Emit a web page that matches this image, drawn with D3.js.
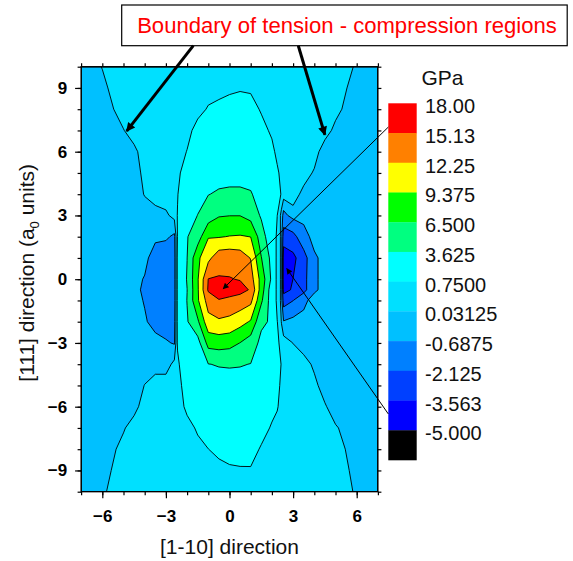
<!DOCTYPE html>
<html>
<head>
<meta charset="utf-8">
<script src="https://cdn.jsdelivr.net/npm/d3@7"></script>
<style>
  body { margin: 0; background: #ffffff; }
  svg { display: block; }
  text { font-family: "Liberation Sans", Arial, Helvetica, sans-serif; }
</style>
</head>
<body>
<svg id="chart" width="573" height="561"></svg>
<script>
// ---------------- DATA ----------------
// grid sample positions along [1-10] (x) and [111] (y), in a0 units
const xNodes = [-7, -6, -5, -4.5, -4, -3.5, -3, -2.6, -2.45, -2, -1.5, -1, -0.5, 0, 0.5, 1, 1.5, 2, 2.25, 2.45, 2.55, 3, 3.5, 4, 4.5, 5, 6, 7];
const yNodes = [10, 9, 8, 7, 6, 5, 4, 3, 2, 1, 0, -0.5, -1, -2, -3, -4, -5, -6, -7, -8, -9, -10];
const stressGPa = [
  /* y=10  */ [-0.3, 0.05, 0.4, 0.4, 0.4, 0.4, 0.4, 0.4, 0.4, 0.4, 0.4, 0.45, 0.45, 0.45, 0.45, 0.45, 0.4, 0.4, 0.4, 0.4, 0.4, 0.4, 0.4, 0.4, 0.4, 0.4, -0.04, -0.3],
  /* y=9   */ [-0.3, -0.1, 0.4, 0.4, 0.4, 0.4, 0.4, 0.4, 0.4, 0.4, 0.4, 0.45, 0.45, 0.5, 0.6, 0.55, 0.5, 0.4, 0.4, 0.4, 0.4, 0.4, 0.4, 0.4, 0.4, 0.4, -0.28, -0.3],
  /* y=8   */ [-0.3, -0.4, 0.4, 0.4, 0.4, 0.4, 0.4, 0.4, 0.4, 0.45, 0.5, 0.82, 1.0, 1.3, 1.5, 1.3, 0.6, 0.45, 0.4, 0.4, 0.4, 0.4, 0.4, 0.4, 0.4, 0.3, -0.6, -0.3],
  /* y=7   */ [-0.3, -0.3, 0.0, 0.4, 0.4, 0.4, 0.4, 0.4, 0.4, 0.5, 1.04, 1.6, 2.0, 2.2, 2.2, 2.0, 1.24, 0.5, 0.4, 0.4, 0.4, 0.4, 0.4, 0.4, 0.4, -0.2, -0.3, -0.3],
  /* y=6   */ [-0.3, -0.3, -0.3, -0.16, 0.4, 0.4, 0.4, 0.4, 0.4, 0.78, 1.8, 2.4, 2.8, 3.0, 3.0, 2.6, 2.0, 1.13, 0.4, 0.4, 0.4, 0.4, 0.4, 0.4, -0.44, -0.3, -0.3, -0.3],
  /* y=5   */ [-0.3, -0.3, -0.3, -0.41, 0.3, 0.4, 0.4, 0.4, 0.4, 1.61, 2.2, 2.6, 2.8, 3.0, 3.0, 2.7, 2.3, 1.6, 0.98, 0.4, 0.4, 0.4, 0.4, -0.07, -0.3, -0.3, -0.3, -0.3],
  /* y=4   */ [-0.3, -0.3, -0.3, -0.3, 0.07, 0.4, 0.4, 0.4, 0.7, 1.84, 2.6, 3.56, 3.9, 3.95, 3.95, 3.82, 2.6, 2.0, 1.5, 0.62, 0.35, 0.4, -0.215, -0.3, -0.3, -0.3, -0.3, -0.3],
  /* y=3   */ [-0.3, -0.3, -0.3, -0.3, -0.3, -0.3, -0.1, 0.25, 0.8, 2.2, 3.68, 5.0, 6.3, 6.45, 6.45, 5.5, 3.27, 1.9, 0.76, -0.21, -1.0, -0.3, -0.3, -0.3, -0.3, -0.3, -0.3, -0.3],
  /* y=2   */ [-0.3, -0.3, -0.3, -0.3, -0.3, -0.4, -0.55, -0.85, 0.81, 3.5, 5.06, 9.2, 9.2, 9.48, 9.6, 9.33, 5.0, 1.56, 0.55, -0.14, -3.0, -2.6, -1.2, -0.25, -0.3, -0.3, -0.3, -0.3],
  /* y=1   */ [-0.3, -0.3, -0.3, -0.3, -0.3, -1.4, -1.3, -1.0, 0.95, 3.6, 8.78, 11.5, 14.0, 14.2, 13.8, 12.12, 6.6, 2.69, 0.265, -0.047, -4.2, -3.9, -2.72, -0.9, -0.3, -0.3, -0.3, -0.3],
  /* y=0   */ [-0.3, -0.3, -0.3, -0.3, -0.78, -1.5, -1.4, -1.0, 0.95, 3.8, 9.1, 15.2, 15.35, 15.25, 15.0, 13.5, 8.3, 3.0, 0.19, -0.02, -4.3, -3.55, -2.6, -0.9, -0.3, -0.3, -0.3, -0.3],
  /* y=-0.5*/ [-0.3, -0.3, -0.3, -0.3, -0.95, -1.5, -1.4, -1.0, 0.95, 3.6, 9.0, 15.5, 17.0, 16.8, 16.0, 14.88, 7.96, 1.88, 0.47, -0.115, -4.0, -3.4, -2.6, -0.9, -0.3, -0.3, -0.3, -0.3],
  /* y=-1  */ [-0.3, -0.3, -0.3, -0.3, -0.77, -1.5, -1.4, -1.0, 0.95, 3.7, 9.0, 13.5, 14.92, 14.27, 13.93, 13.0, 7.0, 2.0, 0.44, -0.105, -2.8, -2.15, -1.0, -0.2, -0.3, -0.3, -0.3, -0.3],
  /* y=-2  */ [-0.3, -0.3, -0.3, -0.3, -0.55, -1.1, -1.1, -0.9, 0.95, 3.4, 6.0, 11.3, 11.8, 11.5, 10.4, 9.1, 4.1, 3.28, 0.78, 0.0, -0.6, -0.3, -0.3, -0.3, -0.3, -0.3, -0.3, -0.3],
  /* y=-3  */ [-0.3, -0.3, -0.3, -0.3, -0.3, -0.3, -0.6, -0.75, 0.9, 2.4, 2.53, 7.49, 7.8, 7.5, 6.45, 5.0, 2.98, 1.8, 1.0, 0.4, 0.35, 0.018, -0.3, -0.3, -0.3, -0.3, -0.3, -0.3],
  /* y=-4  */ [-0.3, -0.3, -0.3, -0.3, -0.3, -0.3, -0.3, 0.23, 0.5, 1.89, 2.5, 3.58, 3.75, 3.8, 3.75, 3.58, 2.8, 2.0, 1.3, 0.69, 0.5, 0.4, 0.3, -0.095, -0.3, -0.3, -0.3, -0.3],
  /* y=-5  */ [-0.3, -0.3, -0.3, -0.3, 0.05, 0.4, 0.4, 0.4, 0.5, 1.1, 2.0, 2.5, 2.8, 2.85, 2.8, 2.6, 2.2, 1.8, 1.2, 0.45, 0.4, 0.4, 0.4, 0.2, -0.27, -0.3, -0.3, -0.3],
  /* y=-6  */ [-0.3, -0.3, -0.3, -0.236, 0.4, 0.4, 0.4, 0.4, 0.4, 0.92, 1.6, 2.0, 2.3, 2.4, 2.4, 2.2, 1.8, 1.4, 0.84, 0.4, 0.4, 0.4, 0.4, 0.4, 0.1, -0.3, -0.3, -0.3],
  /* y=-7  */ [-0.3, -0.3, -0.05, 0.4, 0.4, 0.4, 0.4, 0.4, 0.4, 0.5, 0.85, 1.3, 1.6, 1.8, 1.9, 1.8, 1.64, 0.5, 0.4, 0.4, 0.4, 0.4, 0.4, 0.4, 0.4, 0.1, -0.39, -0.3],
  /* y=-8  */ [-0.3, -0.47, 0.3, 0.4, 0.4, 0.4, 0.4, 0.4, 0.4, 0.45, 0.55, 0.74, 1.0, 1.4, 1.6, 1.64, 0.5, 0.45, 0.4, 0.4, 0.4, 0.4, 0.4, 0.4, 0.4, 0.4, -0.4, -0.3],
  /* y=-9  */ [-0.3, -0.236, 0.4, 0.4, 0.4, 0.4, 0.4, 0.4, 0.4, 0.4, 0.4, 0.45, 0.45, 0.5, 0.55, 0.55, 0.45, 0.4, 0.4, 0.4, 0.4, 0.4, 0.4, 0.4, 0.4, 0.4, -0.17, -0.3],
  /* y=-10 */ [-0.3, -0.06, 0.4, 0.4, 0.4, 0.4, 0.4, 0.4, 0.4, 0.4, 0.4, 0.4, 0.4, 0.4, 0.4, 0.4, 0.4, 0.4, 0.4, 0.4, 0.4, 0.4, 0.4, 0.4, 0.4, 0.4, -0.05, -0.3]
];
// contour levels (GPa) and colour scale
const levels = [-5, -3.563, -2.125, -0.6875, 0.03125, 0.75, 3.625, 6.5, 9.375, 12.25, 15.13];
const levelLabels = ["18.00", "15.13", "12.25", "9.375", "6.500", "3.625", "0.7500", "0.03125", "-0.6875", "-2.125", "-3.563", "-5.000"];
const bandColors = ["#000000", "#0000ff", "#0040ff", "#0080ff", "#00c0ff", "#00e0ff", "#00ffff", "#00ff80", "#00ff00", "#ffff00", "#ff8000", "#ff0000"];
const xTickValues = [-6, -3, 0, 3, 6];
const yTickValues = [-9, -6, -3, 0, 3, 6, 9];
const calloutText = "Boundary of tension - compression regions";
// annotation targets (data coordinates)
const boundaryPoints = [[-4.85, 6.97], [4.5, 6.79]];
const maxPoint = [-0.3, -0.45];
const minPoint = [2.7, 0.5];

// ---------------- CHART ----------------
const svg = d3.select("#chart");
const x = d3.scaleLinear().domain([-7, 7]).range([81.1, 377.9]);
const y = d3.scaleLinear().domain([-10, 10]).range([491.7, 66.7]);
const font = '"Liberation Sans", Arial, Helvetica, sans-serif';

const defs = svg.append("defs");
defs.append("clipPath").attr("id", "plotClip").append("rect")
  .attr("x", x(-7)).attr("y", y(10))
  .attr("width", x(7) - x(-7)).attr("height", y(-10) - y(10));
defs.append("marker").attr("id", "headBig")
  .attr("viewBox", "0 0 10 10").attr("refX", 9).attr("refY", 5)
  .attr("markerWidth", 11).attr("markerHeight", 9).attr("markerUnits", "userSpaceOnUse")
  .attr("orient", "auto")
  .append("path").attr("d", "M0,0L10,5L0,10z").attr("fill", "#000");
defs.append("marker").attr("id", "headSmall")
  .attr("viewBox", "0 0 10 10").attr("refX", 9).attr("refY", 5)
  .attr("markerWidth", 9).attr("markerHeight", 6).attr("markerUnits", "userSpaceOnUse")
  .attr("orient", "auto")
  .append("path").attr("d", "M0,0L10,5L0,10z").attr("fill", "#000");

// contours
const nx = xNodes.length, ny = yNodes.length;
const colToX = d3.scaleLinear().domain(d3.range(nx)).range(xNodes).clamp(true);
const rowToY = d3.scaleLinear().domain(d3.range(ny)).range(yNodes).clamp(true);
const values = stressGPa.flat();
const contours = d3.contours().size([nx, ny]).thresholds(levels)(values);
const proj = d3.geoTransform({
  point(cx, cy) { this.stream.point(x(colToX(cx - 0.5)), y(rowToY(cy - 0.5))); }
});
const path = d3.geoPath(proj);

const gMap = svg.append("g").attr("clip-path", "url(#plotClip)");
gMap.append("rect")
  .attr("x", x(-7)).attr("y", y(10))
  .attr("width", x(7) - x(-7)).attr("height", y(-10) - y(10))
  .attr("fill", bandColors[1]);
gMap.selectAll("path.band").data(contours).join("path")
  .attr("class", "band").attr("d", path)
  .attr("fill", (d, i) => bandColors[i + 1]);
gMap.selectAll("path.iso").data(contours.slice(1)).join("path")
  .attr("class", "iso").attr("d", path)
  .attr("fill", "none").attr("stroke", "#000").attr("stroke-width", 0.9)
  .attr("stroke-linejoin", "round");

// axes
function styleAxis(g) {
  g.select(".domain").remove();
  g.selectAll(".tick line").attr("stroke", "#000").attr("stroke-width", 1.2);
  g.selectAll(".tick text").attr("fill", "#000")
    .style("font-family", font).style("font-size", "17px").style("font-weight", "bold");
}
const minorX = d3.range(-7, 8), minorY = d3.range(-10, 11);
svg.append("g").attr("transform", `translate(0,${y(-10)})`)
  .call(d3.axisBottom(x).tickValues(minorX).tickSize(3.5).tickFormat("")).call(styleAxis);
svg.append("g").attr("transform", `translate(0,${y(-10)})`)
  .call(d3.axisBottom(x).tickValues(xTickValues).tickSize(6.5).tickPadding(12).tickFormat(d3.format("d"))).call(styleAxis);
svg.append("g").attr("transform", `translate(0,${y(10)})`)
  .call(d3.axisTop(x).tickValues(minorX).tickSize(3.5).tickFormat("")).call(styleAxis);
svg.append("g").attr("transform", `translate(${x(-7)},0)`)
  .call(d3.axisLeft(y).tickValues(minorY).tickSize(3.5).tickFormat("")).call(styleAxis);
svg.append("g").attr("transform", `translate(${x(-7)},0)`)
  .call(d3.axisLeft(y).tickValues(yTickValues).tickSize(6).tickPadding(8).tickFormat(d3.format("d"))).call(styleAxis);
svg.append("g").attr("transform", `translate(${x(7)},0)`)
  .call(d3.axisRight(y).tickValues(minorY).tickSize(3.5).tickFormat("")).call(styleAxis);

// frame
svg.append("rect")
  .attr("x", x(-7)).attr("y", y(10))
  .attr("width", x(7) - x(-7)).attr("height", y(-10) - y(10))
  .attr("fill", "none").attr("stroke", "#000").attr("stroke-width", 1.3);

// axis titles
svg.append("text")
  .attr("x", x(0)).attr("y", 554)
  .attr("text-anchor", "middle")
  .style("font-size", "21px").attr("fill", "#111")
  .text("[1-10] direction");
const yt = svg.append("text")
  .attr("transform", `translate(34,${y(0.3)}) rotate(-90)`)
  .attr("text-anchor", "middle")
  .style("font-size", "21px").attr("fill", "#111");
yt.append("tspan").text("[111] direction (a");
yt.append("tspan").attr("dy", 5).style("font-size", "13px").text("0");
yt.append("tspan").attr("dy", -5).text(" units)");

// colour bar
const cbX = 388.3, cbW = 28.4;
const cb = d3.scaleLinear().domain([0, bandColors.length]).range([103.3, 460]);
const cbColors = bandColors.slice().reverse();
svg.append("g").selectAll("rect").data(cbColors).join("rect")
  .attr("x", cbX).attr("width", cbW)
  .attr("y", (d, i) => cb(i)).attr("height", (d, i) => cb(i + 1) - cb(i) + 0.3)
  .attr("fill", d => d);
svg.append("g").selectAll("text").data(levelLabels).join("text")
  .attr("x", 425).attr("y", (d, i) => cb(i) + 10)
  .style("font-size", "20px").attr("fill", "#111")
  .text(d => d);
svg.append("text").attr("x", 421.5).attr("y", 85)
  .style("font-size", "21px").attr("fill", "#111").text("GPa");

// callout
svg.append("rect").attr("x", 121.7).attr("y", 5).attr("width", 445.5).attr("height", 40.7)
  .attr("fill", "#fff").attr("stroke", "#000").attr("stroke-width", 1.2);
const ct = svg.append("text").attr("x", 347).attr("y", 32.5)
  .attr("text-anchor", "middle").attr("fill", "#ff0000")
  .style("font-size", "20px").text(calloutText);
const ctw = ct.node().getComputedTextLength();
if (ctw > 0) ct.style("font-size", (20 * 420 / ctw).toFixed(2) + "px");

// annotation arrows
const bigStarts = [[193.3, 45.7], [298.3, 45.7]];
svg.append("g").selectAll("line").data(boundaryPoints).join("line")
  .attr("x1", (d, i) => bigStarts[i][0]).attr("y1", (d, i) => bigStarts[i][1])
  .attr("x2", d => x(d[0])).attr("y2", d => y(d[1]))
  .attr("stroke", "#000").attr("stroke-width", 3)
  .attr("marker-end", "url(#headBig)");
const thin = [
  { from: [cbX, cb(0.8)], to: maxPoint },
  { from: [cbX, cb(10.45)], to: minPoint }
];
svg.append("g").selectAll("line").data(thin).join("line")
  .attr("x1", d => d.from[0]).attr("y1", d => d.from[1])
  .attr("x2", d => x(d.to[0])).attr("y2", d => y(d.to[1]))
  .attr("stroke", "#000").attr("stroke-width", 1)
  .attr("marker-end", "url(#headSmall)");
</script>
</body>
</html>
